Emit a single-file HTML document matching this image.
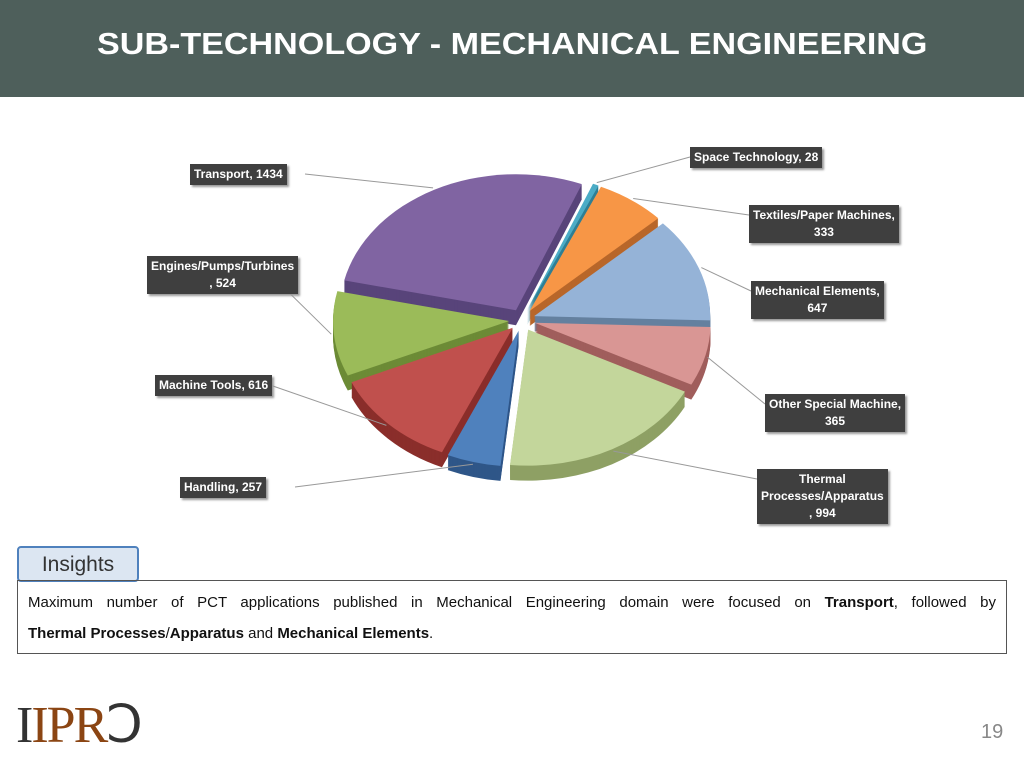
<!DOCTYPE html>
<html><head><meta charset="utf-8"><style>
body{margin:0;width:1024px;height:768px;background:#fff;position:relative;overflow:hidden;font-family:"Liberation Sans",sans-serif}
.hdr{position:absolute;left:0;top:0;width:1024px;height:97px;background:#4e5f5b}
.hdr h1{position:absolute;left:97px;top:26px;margin:0;color:#fff;font-size:31px;font-weight:bold;transform:scaleX(1.1);transform-origin:left;letter-spacing:0}
.lbl{position:absolute;background:#3f3f3f;color:#fff;font-size:12px;font-weight:bold;text-align:center;line-height:17px;box-shadow:2px 2px 2px #999;padding:2px 4px}
.ins{position:absolute;left:17px;top:546px;width:118px;height:32px;background:#dce6f2;border:2px solid #4f81bd;border-radius:4px;font-size:21px;color:#333;text-align:center;line-height:33px}
.box{position:absolute;left:17px;top:580px;width:988px;height:72px;border:1px solid #555;font-size:15px;color:#111}
</style></head><body>
<div class="hdr"><h1>SUB-TECHNOLOGY - MECHANICAL ENGINEERING</h1></div>
<svg id="pie" width="1024" height="560" style="position:absolute;left:0;top:0"></svg>
<div class="ins">Insights</div>
<div class="box">
<div style="position:absolute;left:10px;top:13px;width:968px;text-align:justify;text-align-last:justify">Maximum number of PCT applications published in Mechanical Engineering domain were focused on <b>Transport</b>, followed by</div>
<div style="position:absolute;left:10px;top:44px"><b>Thermal Processes</b>/<b>Apparatus</b> and <b>Mechanical Elements</b>.</div>
</div>
<div style="position:absolute;left:16px;top:700px;font-family:'Liberation Serif',serif;font-size:52px;line-height:52px;color:#8b4513;letter-spacing:-2px"><span style="color:#333">I</span>IPR<span style="color:#333">&#x2183;</span></div>
<div style="position:absolute;left:981px;top:721px;font-size:20px;color:#888">19</div>
<script>
const categories=["Space Technology","Textiles/Paper Machines","Mechanical Elements","Other Special Machine","Thermal Processes/Apparatus","Handling","Machine Tools","Engines/Pumps/Turbines","Transport"];
const values=[28,333,647,365,994,257,616,524,1434];
const labelText=["Space Technology, 28","Textiles/Paper Machines,<br>333","Mechanical Elements,<br>647","Other Special Machine,<br>365","Thermal<br>Processes/Apparatus<br>, 994","Handling, 257","Machine Tools, 616","Engines/Pumps/Turbines<br>, 524","Transport, 1434"];
const colors=["#4bacc6","#f79646","#95b3d7","#d99694","#c3d69b","#4f81bd","#c0504d","#9bbb59","#8064a2"];
const dark=["#2e7f95","#b8672a","#64809f","#a05e5c","#8ea064","#2f5688","#8a2e2b","#6c8b36","#58447a"];
const labelPos=[[690,147],[749,205],[751,281],[765,394],[757,469],[180,477],[155,375],[147,256],[190,164]];
const svg=document.getElementById('pie');const NS="http://www.w3.org/2000/svg";
const cx=522,cy=320,rx=176,ry=136,depth=15,start=-68*Math.PI/180;
const total=values.reduce((a,b)=>a+b,0);
function pt(t,ox,oy,dy){return [cx+ox+rx*Math.cos(t),cy+oy+ry*Math.sin(t)+dy];}
function slicePath(a0,a1,ox,oy,dy){const p0=pt(a0,ox,oy,dy),p1=pt(a1,ox,oy,dy);const large=(a1-a0)>Math.PI?1:0;
return `M${cx+ox},${cy+oy+dy}L${p0[0]},${p0[1]}A${rx},${ry} 0 ${large} 1 ${p1[0]},${p1[1]}Z`;}
let acc=0;const sl=[];
values.forEach((v,i)=>{const a0=start+acc/total*2*Math.PI;acc+=v;const a1=start+acc/total*2*Math.PI;const m=(a0+a1)/2;sl.push({a0,a1,m,ox:13*Math.cos(m),oy:11*Math.sin(m)});});
for(let d=depth;d>0;d-=1){sl.forEach((s,i)=>{const p=document.createElementNS(NS,'path');p.setAttribute('d',slicePath(s.a0,s.a1,s.ox,s.oy,d));p.setAttribute('fill',dark[i]);


svg.appendChild(p);});}
sl.forEach((s,i)=>{const p=document.createElementNS(NS,'path');p.setAttribute('d',slicePath(s.a0,s.a1,s.ox,s.oy,0));p.setAttribute('fill',colors[i]);


svg.appendChild(p);
const e=pt(s.m,s.ox*1.2,s.oy*1.2,0);const lp=labelPos[i];const lx=lp[0]<cx?lp[0]+115:lp[0];const ly=lp[1]+10;
const l=document.createElementNS(NS,'line');l.setAttribute('x1',e[0]);l.setAttribute('y1',e[1]);l.setAttribute('x2',lx);l.setAttribute('y2',ly);l.setAttribute('stroke','#999');l.setAttribute('stroke-width','1');


svg.appendChild(l);
const d=document.createElement('div');d.className='lbl';d.innerHTML=labelText[i];d.style.left=lp[0]+'px';d.style.top=lp[1]+'px';


document.body.appendChild(d);});
</script>
</body></html>
